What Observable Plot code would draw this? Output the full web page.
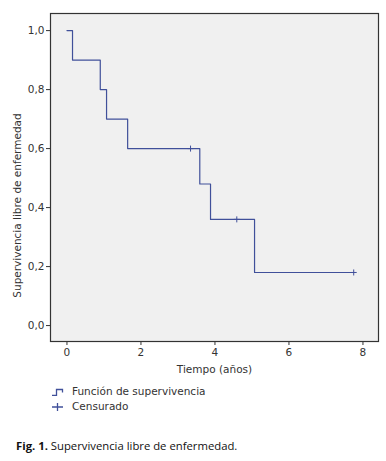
<!DOCTYPE html>
<html>
<head>
<meta charset="utf-8">
<script src="https://cdn.jsdelivr.net/npm/d3@7"></script>
<script src="https://cdn.jsdelivr.net/npm/@observablehq/plot@0.6"></script>
<style>
  body { margin: 0; background: #fff; }
  #wrap { width: 386px; }
  .legend { font-family: "DejaVu Sans", sans-serif; font-size: 10.5px; color: #333; margin-left: 52px; margin-top: 6px; line-height: 15px; }
  .legend div { display: flex; align-items: center; }
  .legend svg { margin-right: 8px; }
  .caption { font-family: "Open Sans", sans-serif; font-size: 11.3px; color: #111; margin-left: 16px; margin-top: 24px; }
</style>
</head>
<body>
<div id="wrap"></div>
<script>
const times = [0, 0.15, 0.9, 1.07, 1.64, 3.59, 3.88, 5.07, 7.75];
const survival = [1.0, 0.9, 0.8, 0.7, 0.6, 0.48, 0.36, 0.18, 0.18];
const censorTimes = [3.34, 4.59, 7.75];
const censorSurvival = [0.6, 0.36, 0.18];
const xTicks = [0, 2, 4, 6, 8];
const yTicks = [0, 0.2, 0.4, 0.6, 0.8, 1.0];

const steps = times.map((t, i) => ({t, s: survival[i]}));
const censored = censorTimes.map((t, i) => ({t, s: censorSurvival[i]}));
const lineColor = "#40509a";

const plusSymbol = {
  draw(ctx, size) {
    const r = 3;
    ctx.moveTo(0, -r); ctx.lineTo(0, r);
    ctx.moveTo(-r, 0); ctx.lineTo(r, 0);
  }
};

const chart = Plot.plot({
  width: 386,
  height: 378,
  marginLeft: 50,
  marginRight: 8,
  marginTop: 13,
  marginBottom: 37,
  style: {fontFamily: "DejaVu Sans, sans-serif", fontSize: "10.5px", color: "#333", background: "#fff"},
  x: {domain: [-0.445, 8.42], ticks: xTicks, tickFormat: d => String(d)},
  y: {domain: [-0.054, 1.058], ticks: yTicks, tickFormat: d => d.toFixed(1).replace(".", ",")},
  marks: [
    Plot.frame({fill: "#f0f0f0", stroke: "none"}),
    Plot.axisX({ticks: xTicks, tickSize: 4, tickPadding: 3, label: "Tiempo (años)", labelAnchor: "center", labelArrow: "none", labelOffset: 31, stroke: "#333"}),
    Plot.axisY({ticks: yTicks, tickSize: 4, tickPadding: 2, tickFormat: d => d.toFixed(1).replace(".", ","), label: "Supervivencia libre de enfermedad", labelAnchor: "center", labelArrow: "none", labelOffset: 37, stroke: "#333"}),
    Plot.line(steps, {x: "t", y: "s", curve: "step-after", stroke: lineColor, strokeWidth: 1.2}),
    Plot.dot(censored, {x: "t", y: "s", symbol: plusSymbol, stroke: lineColor, strokeWidth: 1, fill: "none"}),
    Plot.frame({stroke: "#333", strokeWidth: 1.2})
  ]
});

document.getElementById("wrap").appendChild(chart);
// shift y-axis label slightly down, as in the reference
d3.select(chart).selectAll('[aria-label="y-axis label"] text').each(function() {
  const t = d3.select(this).attr("transform") || "";
  d3.select(this).attr("transform", "translate(0,28) " + t);
});

const legend = document.createElement("div");
legend.className = "legend";
legend.innerHTML = `
<div><svg width="12" height="8"><path d="M0,7.5H4.5V1.5H10.5V4.5" fill="none" stroke="${lineColor}" stroke-width="1.3"/></svg>Función de supervivencia</div>
<div><svg width="12" height="10"><path d="M0,5H11M5.5,1V9" fill="none" stroke="${lineColor}" stroke-width="1.3"/></svg>Censurado</div>`;
document.getElementById("wrap").appendChild(legend);

const cap = document.createElement("div");
cap.className = "caption";
cap.innerHTML = "<b>Fig. 1.</b> Supervivencia libre de enfermedad.";
document.getElementById("wrap").appendChild(cap);
</script>
</body>
</html>
